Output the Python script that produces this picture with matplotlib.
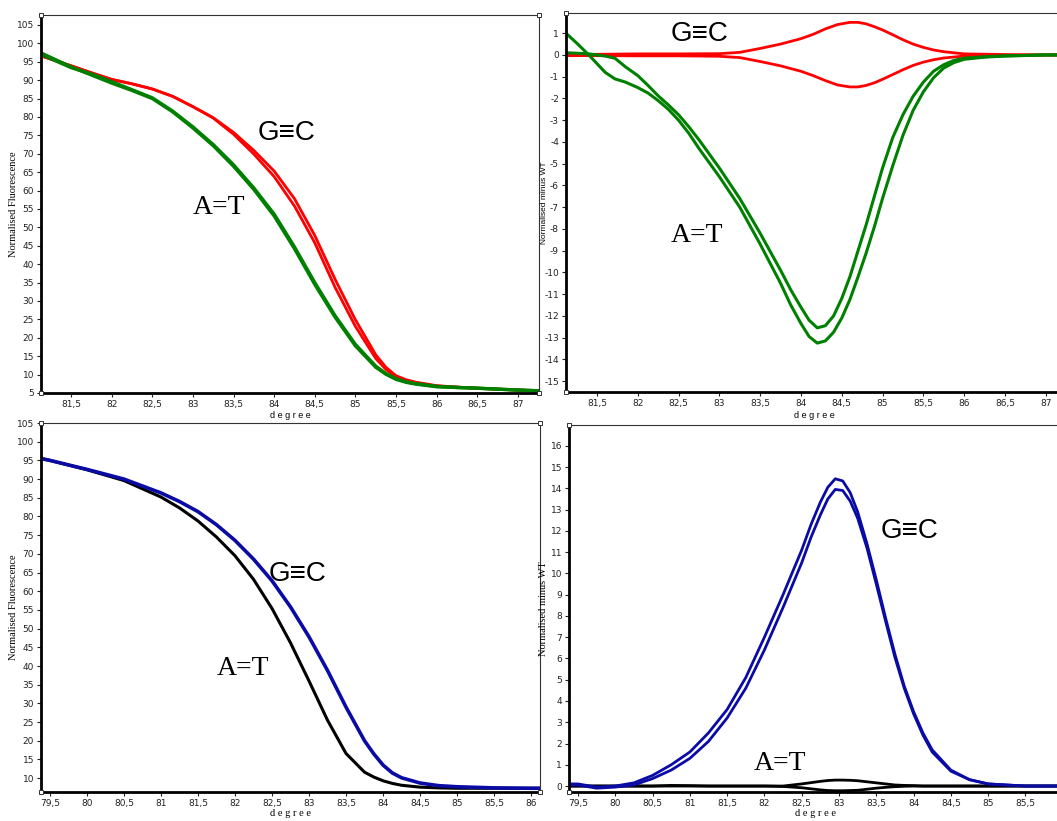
import numpy as np
import matplotlib.pyplot as plt
from matplotlib.ticker import MultipleLocator, FuncFormatter

# ---- data ----
# top-left: normalised fluorescence, G/C (red) vs A/T (green)
tl_x = [81.13, 81.5, 81.75, 82, 82.25, 82.5, 82.75, 83, 83.25, 83.5, 83.75,
        84, 84.25, 84.5, 84.75, 85, 85.25, 85.375, 85.5, 85.625, 85.75, 86,
        86.25, 86.5, 87, 87.26]
tl_red1 = [96.6, 93.9, 92.0, 90.2, 89.0, 87.6, 85.6, 82.8, 79.8, 75.8, 70.9,
           65.3, 57.8, 47.8, 35.9, 24.9, 15.4, 12.0, 9.7, 8.6, 7.9, 7.0,
           6.6, 6.3, 5.8, 5.6]
tl_red2 = [96.6, 93.9, 92.0, 90.2, 89.0, 87.6, 85.6, 82.8, 79.7, 75.3, 69.9,
           63.8, 55.8, 45.8, 33.7, 23.1, 14.4, 11.4, 9.4, 8.4, 7.8, 6.9,
           6.6, 6.3, 5.8, 5.6]
tl_green1 = [97.4, 93.6, 91.4, 89.2, 87.2, 85.0, 81.4, 77.0, 72.2, 66.6, 60.3,
             53.1, 44.2, 34.5, 25.6, 17.8, 12.0, 10.1, 8.7, 7.9, 7.4, 6.7,
             6.5, 6.3, 5.8, 5.6]
tl_green2 = [97.0, 93.4, 91.7, 89.6, 87.4, 85.2, 81.6, 77.3, 72.5, 67.0, 60.7,
             53.6, 44.7, 35.0, 26.0, 18.2, 12.3, 10.3, 8.9, 8.0, 7.5, 6.8,
             6.5, 6.3, 5.8, 5.6]

# top-right: normalised minus WT
tr_red_x = [81.12, 81.5, 82, 82.5, 83, 83.25, 83.5, 83.75, 84, 84.15, 84.3,
            84.45, 84.6, 84.7, 84.8, 84.9, 85, 85.125, 85.25, 85.375, 85.5,
            85.625, 85.75, 86, 86.5, 87, 87.2]
tr_red1 = [0.02, 0.03, 0.05, 0.05, 0.06, 0.12, 0.3, 0.5, 0.75, 0.95, 1.2,
           1.4, 1.5, 1.5, 1.43, 1.3, 1.15, 0.93, 0.7, 0.5, 0.35,
           0.23, 0.15, 0.05, 0.02, 0.0, 0.0]
tr_red2 = [-0.03, -0.03, -0.04, -0.04, -0.06, -0.12, -0.3, -0.5, -0.75, -0.95,
           -1.18, -1.38, -1.47, -1.47, -1.4, -1.28, -1.12, -0.9, -0.68, -0.48,
           -0.33, -0.22, -0.14, -0.05, -0.02, 0.0, 0.0]
tr_green_x = [81.12, 81.25, 81.4, 81.5, 81.6, 81.72, 81.85, 82, 82.125, 82.25,
              82.375, 82.5, 82.625, 82.75, 82.875, 83, 83.125, 83.25, 83.375,
              83.5, 83.625, 83.75, 83.875, 84, 84.1, 84.2, 84.3, 84.4, 84.5,
              84.6, 84.7, 84.8, 84.9, 85, 85.125, 85.25, 85.375, 85.5, 85.625,
              85.75, 85.875, 86, 86.25, 86.5, 87, 87.2]
tr_green1 = [1.0, 0.55, 0.0, -0.4, -0.8, -1.1, -1.25, -1.5, -1.75, -2.1,
             -2.5, -3.0, -3.6, -4.3, -4.95, -5.6, -6.3, -7.0, -7.85,
             -8.7, -9.6, -10.5, -11.5, -12.35, -12.95, -13.25, -13.15, -12.75, -12.1,
             -11.25, -10.2, -9.1, -7.9, -6.6, -5.1, -3.7, -2.55, -1.7, -1.05,
             -0.6, -0.35, -0.2, -0.1, -0.05, 0.0, 0.0]
tr_green2 = [0.1, 0.08, 0.05, 0.0, -0.05, -0.15, -0.55, -0.95, -1.4, -1.88,
             -2.3, -2.75, -3.3, -3.9, -4.55, -5.2, -5.9, -6.6, -7.4,
             -8.2, -9.05, -9.9, -10.8, -11.6, -12.2, -12.55, -12.45, -12.0, -11.2,
             -10.2, -9.0, -7.8, -6.5, -5.2, -3.8, -2.75, -1.9, -1.25, -0.75,
             -0.45, -0.25, -0.15, -0.08, -0.04, 0.0, 0.0]

# bottom-left: normalised fluorescence, G/C (blue) vs A/T (black)
bl_x = [79.38, 79.5, 80, 80.5, 81, 81.25, 81.5, 81.75, 82, 82.25, 82.5, 82.75,
        83, 83.25, 83.5, 83.75, 83.875, 84, 84.125, 84.25, 84.5, 84.75, 85,
        85.5, 86, 86.12]
bl_blue = [95.5, 95.0, 92.6, 90.0, 86.3, 84.0, 81.3, 77.8, 73.6, 68.6, 62.8,
           55.8, 47.8, 38.8, 29.0, 20.0, 16.5, 13.5, 11.4, 10.1, 8.7, 8.0, 7.7,
           7.4, 7.3, 7.3]
bl_black = [95.5, 95.0, 92.5, 89.6, 85.2, 82.3, 78.8, 74.5, 69.5, 63.2, 55.4,
            46.2, 36.0, 25.5, 16.6, 11.6, 10.3, 9.3, 8.6, 8.1, 7.6, 7.4, 7.3,
            7.3, 7.3, 7.3]

# bottom-right: normalised minus WT
br_x = [79.38, 79.5, 79.75, 80, 80.25, 80.5, 80.75, 81, 81.25, 81.5, 81.75, 82,
        82.25, 82.5, 82.625, 82.75, 82.85, 82.95, 83.05, 83.15, 83.25, 83.375,
        83.5, 83.625, 83.75, 83.875, 84, 84.125, 84.25, 84.5, 84.75, 85, 85.5,
        85.99]
br_blue1 = [0.1, 0.1, -0.05, 0.0, 0.15, 0.5, 1.0, 1.6, 2.5, 3.6, 5.1, 7.0,
            9.0, 11.1, 12.3, 13.35, 14.05, 14.45, 14.35, 13.8, 12.9, 11.4,
            9.7, 7.9, 6.2, 4.7, 3.5, 2.5, 1.7, 0.75, 0.3, 0.1, 0.0, 0.0]
br_blue2 = [0.05, 0.05, -0.1, -0.05, 0.05, 0.35, 0.75, 1.3, 2.1, 3.2, 4.6, 6.4,
            8.4, 10.5, 11.7, 12.75, 13.5, 13.95, 13.9, 13.4, 12.6, 11.2,
            9.5, 7.75, 6.05, 4.6, 3.4, 2.4, 1.6, 0.7, 0.3, 0.1, 0.0, 0.0]
br_black1 = [0.0, 0.0, 0.0, 0.0, 0.0, 0.0, 0.03, 0.02, 0.0, 0.0, 0.0, 0.0,
             0.0, 0.1, 0.16, 0.22, 0.26, 0.28, 0.28, 0.27, 0.25, 0.2,
             0.15, 0.1, 0.05, 0.03, 0.02, 0.0, 0.0, 0.0, 0.0, 0.0, 0.0, 0.0]
br_black2 = [0.0, 0.0, 0.0, 0.0, 0.0, 0.0, 0.0, 0.0, 0.0, 0.0, 0.0, 0.0,
             -0.02, -0.08, -0.13, -0.18, -0.21, -0.22, -0.22, -0.21, -0.2, -0.15,
             -0.1, -0.06, -0.03, -0.01, 0.0, 0.0, 0.0, 0.0, 0.0, 0.0, 0.0, 0.0]

W, H = 1057, 821
fig = plt.figure(figsize=(W / 100, H / 100), dpi=100)

tick_font = ['Liberation Sans Narrow', 'DejaVu Sans']
sans = ['Liberation Sans', 'DejaVu Sans']
serif = ['Liberation Serif', 'DejaVu Serif']


def px_axes(l, t, r, b):
    # axes rectangle given in pixel edges
    return fig.add_axes([l / W, 1 - b / H, (r - l) / W, (b - t) / H])


def style(ax, xlim, ylim, ystep):
    ax.set_xlim(*xlim)
    ax.set_ylim(*ylim)
    ax.xaxis.set_major_locator(MultipleLocator(0.5))
    ax.yaxis.set_major_locator(MultipleLocator(ystep))
    fmt = FuncFormatter(lambda v, p: ('%g' % v).replace('.', ','))
    ax.xaxis.set_major_formatter(fmt)
    ax.yaxis.set_major_formatter(fmt)
    ax.tick_params(direction='out', length=3, width=0.8, labelsize=6.5,
                   colors='#222222', pad=2)
    for lab in ax.get_xticklabels() + ax.get_yticklabels():
        lab.set_family(tick_font)
    ax.spines['left'].set_linewidth(2)
    ax.spines['bottom'].set_linewidth(2)
    ax.spines['top'].set_linewidth(0.8)
    ax.spines['right'].set_linewidth(0.8)
    ax.spines['top'].set_color('#333333')
    ax.spines['right'].set_color('#333333')
    # little corner squares like the original software
    for cx, cy in [(0, 0), (0, 1), (1, 0), (1, 1)]:
        ax.plot(cx, cy, marker='s', ms=3, mfc='white', mec='#333333',
                mew=0.7, transform=ax.transAxes, clip_on=False, zorder=5)


def label(x, y, s, fam, size=20):
    fig.text(x / W, 1 - y / H, s, family=fam, fontsize=size,
             ha='center', va='center')


# top-left
ax1 = px_axes(41, 15, 539, 393)
ax1.plot(tl_x, tl_red1, color='#ff0000', lw=2.0)
ax1.plot(tl_x, tl_red2, color='#ff0000', lw=2.0)
ax1.plot(tl_x, tl_green1, color='#008000', lw=2.4)
ax1.plot(tl_x, tl_green2, color='#008000', lw=2.4)
style(ax1, (81.13, 87.26), (5, 107.7), 5)
ax1.set_ylabel('Normalised Fluorescence', family=serif, fontsize=7.5)
ax1.yaxis.set_label_coords(-0.046, 0.5)

# top-right
ax2 = px_axes(566, 13, 1062, 392)
ax2.plot(tr_red_x, tr_red1, color='#ff0000', lw=2.0)
ax2.plot(tr_red_x, tr_red2, color='#ff0000', lw=2.0)
ax2.plot(tr_green_x, tr_green1, color='#008000', lw=2.2)
ax2.plot(tr_green_x, tr_green2, color='#008000', lw=2.2)
style(ax2, (81.12, 87.2), (-15.5, 1.93), 1)
ax2.set_ylabel('Normalised minus WT', family=sans, fontsize=6)
ax2.yaxis.set_label_coords(-0.036, 0.5)
ax2.set_xlabel('d e g r e e', family=sans, fontsize=6.5, labelpad=2)

# bottom-left
ax3 = px_axes(41, 423, 540, 792)
ax3.plot(bl_x, bl_black, color='black', lw=2.2)
ax3.plot(bl_x, bl_blue, color='#0a0aa5', lw=2.6)
style(ax3, (79.38, 86.12), (6.3, 105), 5)
ax3.set_ylabel('Normalised Fluorescence', family=serif, fontsize=7.5)
ax3.yaxis.set_label_coords(-0.046, 0.5)
ax3.set_xlabel('d e g r e e', family=serif, fontsize=7.5, labelpad=1)

# bottom-right
ax4 = px_axes(569, 425, 1062, 792)
ax4.plot(br_x, br_black1, color='black', lw=2.0)
ax4.plot(br_x, br_black2, color='black', lw=2.0)
ax4.plot(br_x, br_blue1, color='#0a0aa5', lw=2.0)
ax4.plot(br_x, br_blue2, color='#0a0aa5', lw=2.0)
style(ax4, (79.38, 85.99), (-0.28, 16.98), 1)
ax4.set_ylabel('Normalised minus WT', family=serif, fontsize=7.5)
ax4.yaxis.set_label_coords(-0.043, 0.5)
ax4.set_xlabel('d e g r e e', family=serif, fontsize=7.5, labelpad=1)

# top-left x label, partly hidden under lower panel in the original
fig.text(290 / W, 1 - 415 / H, 'd e g r e e', family=sans, fontsize=6.5,
         ha='center', va='center')

label(287, 133, 'G\u2261C', sans, 20)
label(219, 207, 'A=T', serif, 20)
label(700, 34, 'G\u2261C', sans, 20)
label(697, 235, 'A=T', serif, 20)
label(298, 574, 'G\u2261C', sans, 20)
label(243, 668, 'A=T', serif, 20)
label(910, 531, 'G\u2261C', sans, 20)
label(780, 763, 'A=T', serif, 20)

fig.savefig('out.png', dpi=100)
